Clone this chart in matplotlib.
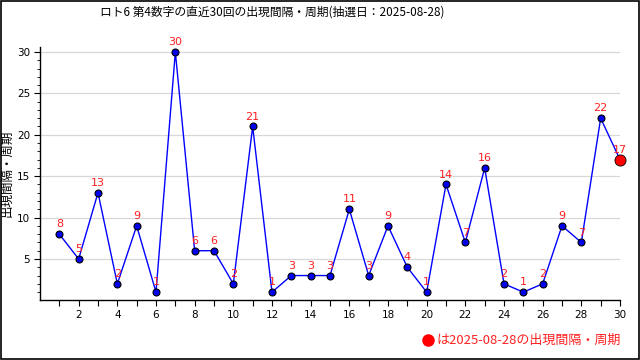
import matplotlib
matplotlib.use("Agg")
import matplotlib.pyplot as plt
from matplotlib.patches import Rectangle
from matplotlib.lines import Line2D

plt.rcParams['font.family'] = ['Noto Sans CJK JP', 'DejaVu Sans']

draws = list(range(1, 31))
values = [8, 5, 13, 2, 9, 1, 30, 6, 6, 2, 21, 1, 3, 3, 3, 11, 3, 9, 4, 1,
          14, 7, 16, 2, 1, 2, 9, 7, 22, 17]
title = "ロト6 第4数字の直近30回の出現間隔・周期(抽選日：2025-08-28)"
ylabel = "出現間隔・周期"
legend_text = "は2025-08-28の出現間隔・周期"
yticks_major = [5, 10, 15, 20, 25, 30]

fig = plt.figure(figsize=(6.4, 3.6), dpi=100)
ax = fig.add_axes([40/640, 1 - 300.4/360, 580/640, 253.4/360])

ax.set_xlim(0, 30)
ax.set_ylim(0, 30.6)
for y in yticks_major:
    ax.axhline(y, color='#d8d8d8', lw=0.9, zorder=0)

ax.plot(draws, values, color='#0000ff', lw=1.0, zorder=2)
ax.plot(draws[:-1], values[:-1], 'o', ms=5, mfc='#0000ee', mec='black', mew=0.8, zorder=3)
ax.plot(draws[-1:], values[-1:], 'o', ms=8, mfc='#ff0000', mec='black', mew=0.6, zorder=3,
        clip_on=False)

for x, v in zip(draws, values):
    ax.annotate(str(v), (x, v), xytext=(0, 3.5), textcoords='offset points',
                ha='center', va='bottom', color='#ff2020', fontsize=8,
                family='DejaVu Sans', zorder=4)

ax.set_xticks(draws)
ax.set_xticklabels([str(d) if d % 2 == 0 else '' for d in draws], fontsize=7.5, family='DejaVu Sans')
ax.set_yticks(yticks_major)
ax.set_yticklabels([str(y) for y in yticks_major], fontsize=7.5, family='DejaVu Sans')
ax.set_yticks(range(1, 31), minor=True)
ax.tick_params(axis='both', which='major', length=4, width=0.8, color='black', pad=3)
ax.tick_params(axis='y', which='minor', length=2.5, width=0.6)
for s in ['top', 'right']:
    ax.spines[s].set_visible(False)
for s in ['left', 'bottom']:
    ax.spines[s].set_linewidth(1.0)

ax.set_ylabel(ylabel, fontsize=9)
ax.yaxis.set_label_coords(-0.046, 0.5)

fig.text(100/640, 1 - 12/360, title, ha='left', va='center', fontsize=8.5)

fig.add_artist(Line2D([428/640], [1 - 340/360], marker='o', ms=8, color='#ff0000',
                      transform=fig.transFigure))
fig.text(436/640, 1 - 340/360, legend_text, ha='left', va='center', fontsize=9.4, color='#ff2020')

fig.add_artist(Rectangle((0.0015, 0.0025), 0.997, 0.995, transform=fig.transFigure,
                         fill=False, ec='black', lw=1.2))

fig.savefig('out.png', dpi=100)
